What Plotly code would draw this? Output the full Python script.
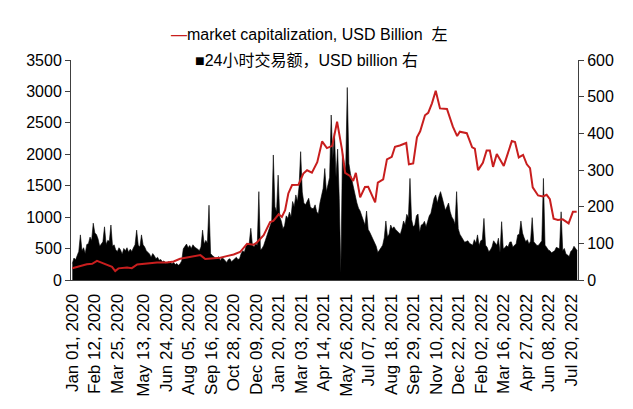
import pandas as pd
import plotly.graph_objects as go

# ---- market capitalization (USD Billion, left axis) ----
cap_dates = [
    "2020-01-01", "2020-01-16", "2020-01-28", "2020-02-07", "2020-02-16", "2020-02-22",
    "2020-03-06", "2020-03-15", "2020-03-21", "2020-03-27", "2020-04-12", "2020-04-21",
    "2020-05-01", "2020-05-19", "2020-06-07", "2020-06-26", "2020-07-08", "2020-07-20",
    "2020-08-02", "2020-08-14", "2020-08-27", "2020-09-05", "2020-09-20", "2020-10-03",
    "2020-10-15", "2020-10-28", "2020-11-09", "2020-11-22", "2020-12-04", "2020-12-10",
    "2020-12-23", "2021-01-04", "2021-01-10", "2021-01-20", "2021-01-26", "2021-02-01",
    "2021-02-07", "2021-02-14", "2021-02-26", "2021-03-07", "2021-03-14", "2021-03-23",
    "2021-04-02", "2021-04-11", "2021-04-20", "2021-04-30", "2021-05-09", "2021-05-18",
    "2021-05-24", "2021-06-02", "2021-06-08", "2021-06-13", "2021-06-21", "2021-06-30",
    "2021-07-06", "2021-07-19", "2021-07-24", "2021-08-03", "2021-08-10", "2021-08-19",
    "2021-08-25", "2021-09-03", "2021-09-15", "2021-09-20", "2021-09-28", "2021-10-05",
    "2021-10-11", "2021-10-20", "2021-10-26", "2021-11-02", "2021-11-09", "2021-11-17",
    "2021-11-30", "2021-12-11", "2021-12-19", "2021-12-24", "2022-01-06", "2022-01-16",
    "2022-01-21", "2022-01-27", "2022-02-05", "2022-02-12", "2022-02-18", "2022-02-24",
    "2022-03-03", "2022-03-16", "2022-03-31", "2022-04-06", "2022-04-13", "2022-04-21",
    "2022-04-28", "2022-05-04", "2022-05-09", "2022-05-19", "2022-05-28", "2022-06-04",
    "2022-06-10", "2022-06-17", "2022-06-25", "2022-07-04", "2022-07-15", "2022-07-23",
    "2022-07-30",
]
cap_values = [
    188, 225, 250, 258, 305, 285,
    248, 210, 142, 185, 198, 188,
    246, 262, 280, 280, 295, 338,
    358, 374, 396, 333, 338, 354,
    380, 406, 445, 576, 562, 594,
    712, 923, 940, 1046, 1003, 1110,
    1377, 1510, 1515, 1693, 1745, 1708,
    1875, 2205, 2099, 2135, 2520, 2083,
    1705, 1656, 1575, 1705, 1315, 1480,
    1484, 1235, 1550, 1600, 1920, 1960,
    2120, 2140, 2180, 1840, 1855, 2270,
    2365, 2620, 2660, 2810, 3010, 2730,
    2720, 2440, 2290, 2360, 2335, 2110,
    2090, 1748, 1866, 2060, 2060, 1800,
    2005, 1815, 2210, 2195, 1950, 1990,
    1840, 1780, 1475, 1345, 1328, 1355,
    1285, 975, 955, 965, 900, 1085,
    1085,
]

# ---- 24h trading volume (USD billion, right axis), every 3 days from 2020-01-01 ----
vol_start = "2020-01-01"
vol_values = [
    45, 60, 55, 70, 78, 123, 80, 88, 72, 97,
    99, 117, 108, 155, 128, 124, 112, 92, 100, 104,
    145, 97, 108, 106, 150, 92, 96, 82, 78, 88,
    82, 70, 86, 80, 88, 76, 84, 78, 88, 96,
    136, 95, 90, 123, 96, 90, 80, 76, 71, 62,
    72, 66, 58, 62, 54, 56, 50, 52, 46, 48,
    50, 47, 44, 48, 42, 45, 40, 44, 52, 85,
    92, 98, 88, 94, 86, 96, 90, 88, 84, 80,
    90, 136, 98, 108, 100, 204, 72, 67, 63, 60,
    58, 64, 53, 60, 58, 52, 48, 56, 58, 50,
    54, 60, 62, 56, 58, 72, 80, 76, 92, 99,
    100, 141, 95, 90, 99, 94, 241, 82, 86, 94,
    108, 117, 130, 145, 160, 341, 200, 186, 286, 172,
    160, 140, 148, 175, 168, 185, 172, 214, 200, 232,
    214, 254, 350, 240, 210, 205, 215, 223, 200, 195,
    195, 205, 186, 180, 210, 232, 250, 304, 241, 260,
    280, 450, 330, 402, 280, 357, 223, 20, 348, 320,
    300, 525, 318, 290, 268, 245, 232, 210, 196, 188,
    175, 160, 150, 188, 138, 130, 120, 110, 100, 92,
    75, 80, 88, 95, 115, 161, 118, 125, 150, 140,
    145, 138, 134, 128, 125, 140, 161, 150, 179, 170,
    277, 165, 145, 150, 175, 180, 130, 150, 152, 160,
    145, 160, 175, 182, 200, 223, 232, 210, 228, 241,
    225, 205, 190, 200, 210, 186, 172, 165, 152, 241,
    140, 125, 118, 110, 103, 105, 107, 100, 98, 95,
    110, 100, 123, 94, 107, 110, 168, 95, 89, 77,
    82, 90, 107, 100, 95, 114, 75, 159, 85, 88,
    94, 90, 103, 104, 89, 95, 98, 123, 125, 161,
    128, 115, 104, 110, 98, 106, 170, 104, 98, 94,
    95, 100, 107, 277, 95, 89, 82, 80, 74, 77,
    80, 89, 86, 85, 186, 80, 86, 71, 68, 64,
    78, 82, 92, 85, 80,
]
vol_dates = pd.date_range(vol_start, periods=len(vol_values), freq="3D")

# ---- axis ticks ----
tick_dates = [
    "2020-01-01", "2020-02-12", "2020-03-25", "2020-05-13", "2020-06-24", "2020-08-05",
    "2020-09-16", "2020-10-28", "2020-12-09", "2021-01-20", "2021-03-03", "2021-04-14",
    "2021-05-26", "2021-07-07", "2021-08-18", "2021-09-29", "2021-11-10", "2021-12-22",
    "2022-02-02", "2022-03-16", "2022-04-27", "2022-06-08", "2022-07-20",
]
tick_text = [pd.Timestamp(d).strftime("%b %d, %Y") for d in tick_dates]
left_ticks = [0, 500, 1000, 1500, 2000, 2500, 3000, 3500]
right_ticks = [0, 100, 200, 300, 400, 500, 600]

legend_cap = "market capitalization, USD Billion  左"
legend_vol = "24小时交易额，USD billion 右"

FONT = "Liberation Sans, Arial, Noto Sans CJK SC, sans-serif"
RED = "#C81E1E"
AXIS = "#404040"

fig = go.Figure()
fig.add_trace(go.Scatter(
    x=vol_dates, y=vol_values, yaxis="y", mode="lines",
    line=dict(color="black", width=0.6), fill="tozeroy", fillcolor="black",
    name=legend_vol, showlegend=False, hoverinfo="skip",
))
fig.add_trace(go.Scatter(
    x=pd.to_datetime(cap_dates), y=cap_values, yaxis="y2", mode="lines",
    line=dict(color=RED, width=2), name=legend_cap, showlegend=False,
))

# page body has an 8px default margin, so the figure is a little smaller than the window
fig.update_layout(
    width=625, height=401,
    margin=dict(l=63, r=55, t=52, b=129),
    paper_bgcolor="white", plot_bgcolor="white",
    font=dict(family=FONT, size=16, color="black"),
    xaxis=dict(
        type="date", range=["2019-12-29 12:00", "2022-08-01 12:00"],
        tickmode="array", tickvals=pd.to_datetime(tick_dates), ticktext=tick_text,
        tickangle=-90, tickfont=dict(size=17), automargin=False,
        showline=True, linecolor=AXIS, linewidth=1,
        ticks="outside", ticklen=6, tickcolor="rgba(0,0,0,0)",
        showgrid=False, zeroline=False,
    ),
    yaxis=dict(
        side="right", range=[0, 600], tickmode="array", tickvals=right_ticks,
        showline=True, linecolor=AXIS, linewidth=1, automargin=False,
        ticks="outside", ticklen=5, tickcolor=AXIS,
        showgrid=False, zeroline=False, tickfont=dict(size=16),
    ),
    yaxis2=dict(
        overlaying="y", side="left", range=[0, 3500], tickmode="array", tickvals=left_ticks,
        showline=True, linecolor=AXIS, linewidth=1, automargin=False,
        ticks="outside", ticklen=5, tickcolor=AXIS,
        showgrid=False, zeroline=False, tickfont=dict(size=16),
    ),
    annotations=[
        dict(xref="paper", yref="paper", x=0.47, y=1.118, xanchor="center", yanchor="middle",
             text=f"<span style='color:{RED}'>—</span>{legend_cap}", showarrow=False,
             font=dict(size=16)),
        dict(xref="paper", yref="paper", x=0.465, y=1.0, xanchor="center", yanchor="middle",
             text=f"■{legend_vol}", showarrow=False, font=dict(size=16)),
    ],
)

fig.write_html("out.html")
